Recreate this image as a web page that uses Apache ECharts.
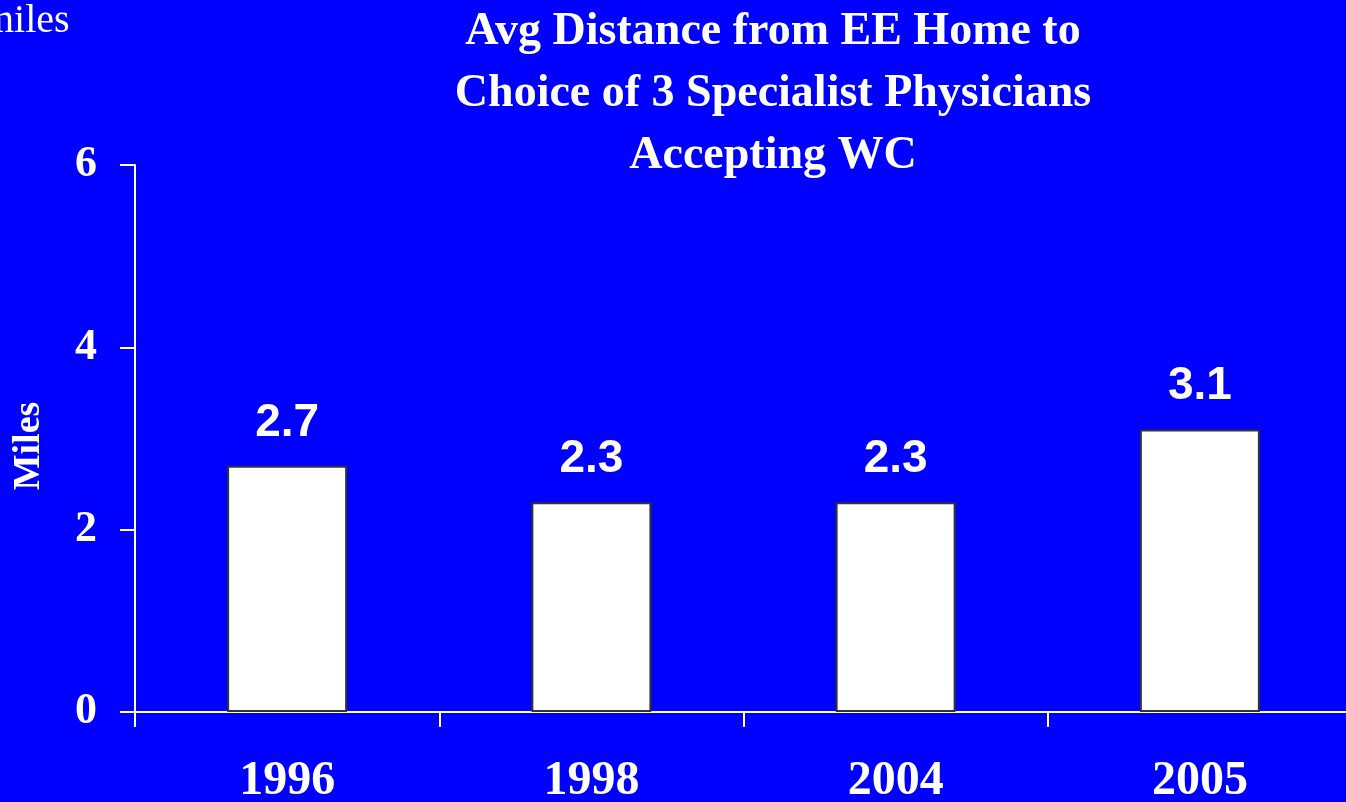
<!DOCTYPE html>
<html>
<head>
<meta charset="utf-8">
<script src="https://cdn.jsdelivr.net/npm/echarts@6/dist/echarts.min.js"></script>
<style>
  html, body { margin: 0; padding: 0; background: #0000FF; overflow: hidden; }
  #chart { width: 1346px; height: 802px; }
</style>
</head>
<body>
<div id="chart"></div>
<script>
// Average distance (miles) to a choice of three specialist physicians
const years = ['1996', '1998', '2004', '2005'];
const miles = [2.7, 2.3, 2.3, 3.1];
const yTicks = { min: 0, max: 6, interval: 2 };
const titleLines = ['Avg Distance from EE Home to', 'Choice of 3 Specialist Physicians', 'Accepting WC'];
const yAxisName = 'Miles';
const cornerNote = 'miles';

const serif = '"Liberation Serif", "Times New Roman", serif';
const sans = '"Liberation Sans", Arial, sans-serif';

const chart = echarts.init(document.getElementById('chart'));
chart.setOption({
  backgroundColor: '#0000FF',
  animation: false,
  title: {
    text: titleLines.join('\n'),
    left: 768,
    textAlign: 'center',
    top: -4,
    textStyle: {
      color: '#FFFFFF',
      fontFamily: serif,
      fontWeight: 'bold',
      fontSize: 46,
      lineHeight: 62
    }
  },
  graphic: [{
    type: 'text',
    x: -17,
    y: 41,
    style: { text: cornerNote, fill: '#FFFFFF', font: '40px ' + serif, verticalAlign: 'bottom' }
  }, {
    type: 'text',
    x: 29,
    y: 446,
    rotation: Math.PI / 2,
    style: {
      text: yAxisName, fill: '#FFFFFF', font: 'bold 38px ' + serif,
      align: 'center', verticalAlign: 'middle'
    }
  }],
  grid: { left: 135, right: -6, top: 165, bottom: 90, outerBoundsMode: 'none', containLabel: false },
  xAxis: {
    type: 'category',
    data: years,
    axisLine: { lineStyle: { color: '#FFFFFF', width: 2 } },
    axisTick: { show: true, length: 15, lineStyle: { color: '#FFFFFF', width: 2 } },
    axisLabel: {
      color: '#FFFFFF', fontFamily: serif, fontWeight: 'bold', fontSize: 48, margin: 46
    }
  },
  yAxis: {
    type: 'value',
    min: yTicks.min, max: yTicks.max, interval: yTicks.interval,
    axisLine: { show: true, lineStyle: { color: '#FFFFFF', width: 2 } },
    axisTick: { show: true, length: 15, lineStyle: { color: '#FFFFFF', width: 2 } },
    splitLine: { show: false },
    axisLabel: {
      color: '#FFFFFF', fontFamily: serif, fontWeight: 'bold', fontSize: 44, margin: 38
    }
  },
  series: [{
    type: 'bar',
    data: miles,
    barWidth: 120,
    itemStyle: { color: '#FFFFFF', borderColor: '#333333', borderWidth: 2 },
    label: {
      show: true,
      position: 'top',
      distance: 20,
      color: '#FFFFFF',
      fontFamily: sans,
      fontWeight: 'bold',
      fontSize: 46,
      formatter: p => p.value.toFixed(1)
    }
  }]
});
</script>
</body>
</html>
